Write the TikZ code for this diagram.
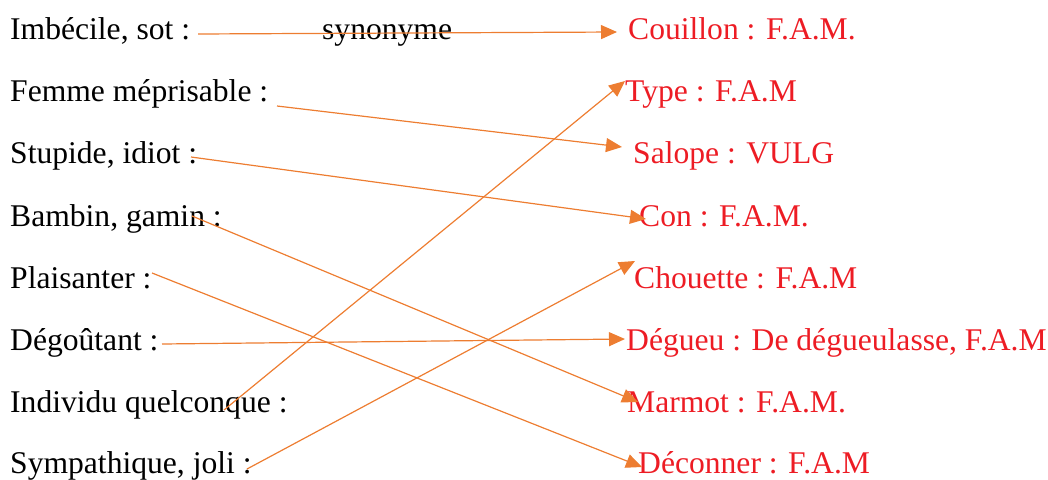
\documentclass[tikz,border=0pt]{standalone}
\usepackage{fontspec}
\setmainfont{Liberation Serif}
\usetikzlibrary{positioning,arrows.meta}
\definecolor{arroworange}{RGB}{237,125,49}
\definecolor{slangred}{RGB}{237,28,36}

\begin{document}
\begin{tikzpicture}[x=1pt, y=-1pt,
    term/.style={anchor=base west, inner sep=0pt, font=\fontsize{31.6}{38}\selectfont},
    slang/.style={term, text=slangred},
    arrow/.style={-{Triangle[length=16pt, width=14pt]}, draw=arroworange, line width=1.2pt}]

    \useasboundingbox (0,0) rectangle (1048,479);

    % Words
    \node[term] (imbecile) at (10,39) {Imbécile, sot :};
    \node[term] (femme) at (10,101) {Femme méprisable :};
    \node[term] (stupide) at (10,163) {Stupide, idiot :};
    \node[term] (bambin) at (10,226) {Bambin, gamin :};
    \node[term] (plaisanter) at (10,288) {Plaisanter :};
    \node[term] (degoutant) at (10,350) {Dégoûtant :};
    \node[term] (individu) at (10,412) {Individu quelconque :};
    \node[term] (sympa) at (10,473) {Sympathique, joli :};

    \node[term] (synonyme) at (322,39) {synonyme};

    % Familiar synonyms
    \node[slang] (couillon) at (628,39) {Couillon : F.A.M.};
    \node[slang] (type) at (625,101) {Type : F.A.M};
    \node[slang] (salope) at (633,163) {Salope : VULG};
    \node[slang] (con) at (639,226) {Con : F.A.M.};
    \node[slang] (chouette) at (634,288) {Chouette : F.A.M};
    \node[slang] (degueu) at (626,350) {Dégueu : De dégueulasse, F.A.M};
    \node[slang] (marmot) at (627,412) {Marmot : F.A.M.};
    \node[slang] (deconner) at (638,473) {Déconner : F.A.M};

    % Arrow ends
    \coordinate (imbecile-out) at (198,34);
    \coordinate (femme-out) at (277,106);
    \coordinate (stupide-out) at (191,157);
    \coordinate (bambin-out) at (192,216);
    \coordinate (plaisanter-out) at (152,273);
    \coordinate (degoutant-out) at (162,344);
    \coordinate (individu-out) at (224,410);
    \coordinate (sympa-out) at (247,469);

    \coordinate (couillon-in) at (617,32);
    \coordinate (type-in) at (625,81);
    \coordinate (salope-in) at (622,147);
    \coordinate (con-in) at (646,219);
    \coordinate (chouette-in) at (635,261);
    \coordinate (degueu-in) at (625,339);
    \coordinate (marmot-in) at (638,402);
    \coordinate (deconner-in) at (642,467);

    % Connect words
    \draw[arrow] (imbecile-out) -- (couillon-in);
    \draw[arrow] (femme-out) -- (salope-in);
    \draw[arrow] (stupide-out) -- (con-in);
    \draw[arrow] (bambin-out) -- (marmot-in);
    \draw[arrow] (plaisanter-out) -- (deconner-in);
    \draw[arrow] (degoutant-out) -- (degueu-in);
    \draw[arrow] (individu-out) -- (type-in);
    \draw[arrow] (sympa-out) -- (chouette-in);
\end{tikzpicture}
\end{document}
